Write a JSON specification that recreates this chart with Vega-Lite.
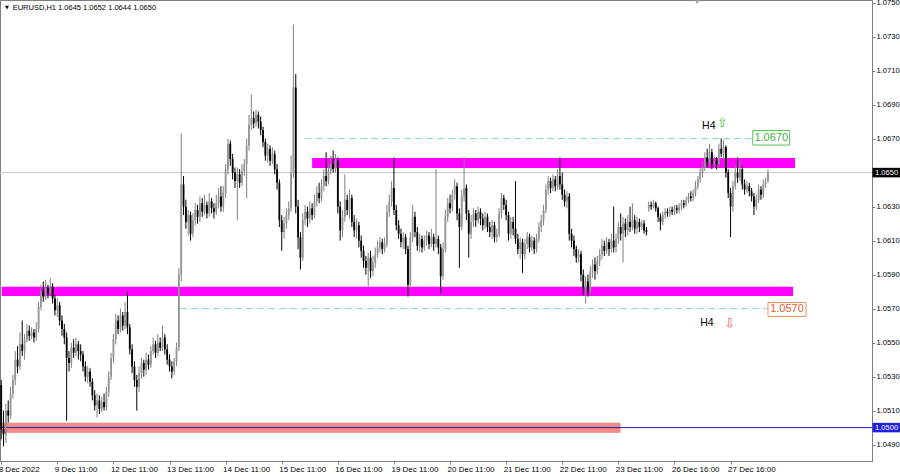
{
"$schema":"https://vega.github.io/schema/vega-lite/v6.json",
"width":872,"height":461,
"autosize":{"type":"none"},
"padding":{"left":0,"top":0,"right":28,"bottom":13},
"background":"#ffffff",
"config":{"view":{"stroke":"#7f7f7f","strokeWidth":1},"font":"Liberation Sans",
 "axis":{"grid":false,"title":null,"labelOverlap":false,"labelBound":false,"labelFlush":false,"domainColor":"#7f7f7f","tickColor":"#7f7f7f","labelColor":"#000000","labelFont":"Liberation Sans","tickSize":3},
 "axisY":{"labelFontSize":7.6,"labelPadding":1,"labelOverlap":false,"tickCount":40},
 "axisX":{"labelFontSize":8,"labelPadding":1,"labelOverlap":false,"tickCount":40}},
"datasets":{
"candles":[
{"i":0,"o":1.0525,"h":1.0528,"l":1.0493,"c":1.0499},
{"i":1,"o":1.0499,"h":1.0510,"l":1.0489,"c":1.0496},
{"i":2,"o":1.0496,"h":1.0514,"l":1.0491,"c":1.0510},
{"i":3,"o":1.0510,"h":1.0516,"l":1.0503,"c":1.0507},
{"i":4,"o":1.0507,"h":1.0524,"l":1.0505,"c":1.0520},
{"i":5,"o":1.0520,"h":1.0531,"l":1.0517,"c":1.0528},
{"i":6,"o":1.0528,"h":1.0545,"l":1.0525,"c":1.0540},
{"i":7,"o":1.0540,"h":1.0548,"l":1.0532,"c":1.0536},
{"i":8,"o":1.0536,"h":1.0556,"l":1.0534,"c":1.0549},
{"i":9,"o":1.0549,"h":1.0563,"l":1.0542,"c":1.0545},
{"i":10,"o":1.0545,"h":1.0555,"l":1.0540,"c":1.0552},
{"i":11,"o":1.0552,"h":1.0561,"l":1.0550,"c":1.0557},
{"i":12,"o":1.0557,"h":1.0560,"l":1.0551,"c":1.0554},
{"i":13,"o":1.0554,"h":1.0559,"l":1.0552,"c":1.0556},
{"i":14,"o":1.0556,"h":1.0558,"l":1.0550,"c":1.0553},
{"i":15,"o":1.0553,"h":1.0562,"l":1.0551,"c":1.0558},
{"i":16,"o":1.0558,"h":1.0574,"l":1.0556,"c":1.0571},
{"i":17,"o":1.0571,"h":1.0584,"l":1.0569,"c":1.0580},
{"i":18,"o":1.0580,"h":1.0586,"l":1.0574,"c":1.0577},
{"i":19,"o":1.0577,"h":1.0587,"l":1.0575,"c":1.0582},
{"i":20,"o":1.0582,"h":1.0584,"l":1.0576,"c":1.0579},
{"i":21,"o":1.0579,"h":1.0588,"l":1.0577,"c":1.0583},
{"i":22,"o":1.0583,"h":1.0585,"l":1.0573,"c":1.0576},
{"i":23,"o":1.0576,"h":1.0578,"l":1.0566,"c":1.0569},
{"i":24,"o":1.0569,"h":1.0576,"l":1.0565,"c":1.0572},
{"i":25,"o":1.0572,"h":1.0574,"l":1.0560,"c":1.0563},
{"i":26,"o":1.0563,"h":1.0566,"l":1.0554,"c":1.0558},
{"i":27,"o":1.0558,"h":1.0561,"l":1.0549,"c":1.0553},
{"i":28,"o":1.0553,"h":1.0556,"l":1.0504,"c":1.0541},
{"i":29,"o":1.0541,"h":1.0545,"l":1.0533,"c":1.0538},
{"i":30,"o":1.0538,"h":1.0550,"l":1.0535,"c":1.0547},
{"i":31,"o":1.0547,"h":1.0552,"l":1.0541,"c":1.0544},
{"i":32,"o":1.0544,"h":1.0553,"l":1.0542,"c":1.0549},
{"i":33,"o":1.0549,"h":1.0551,"l":1.0540,"c":1.0545},
{"i":34,"o":1.0545,"h":1.0549,"l":1.0539,"c":1.0543},
{"i":35,"o":1.0543,"h":1.0545,"l":1.0533,"c":1.0536},
{"i":36,"o":1.0536,"h":1.0539,"l":1.0527,"c":1.0530},
{"i":37,"o":1.0530,"h":1.0536,"l":1.0526,"c":1.0533},
{"i":38,"o":1.0533,"h":1.0535,"l":1.0524,"c":1.0527},
{"i":39,"o":1.0527,"h":1.0529,"l":1.0516,"c":1.0519},
{"i":40,"o":1.0519,"h":1.0522,"l":1.0510,"c":1.0513},
{"i":41,"o":1.0513,"h":1.0520,"l":1.0506,"c":1.0516},
{"i":42,"o":1.0516,"h":1.0519,"l":1.0508,"c":1.0511},
{"i":43,"o":1.0511,"h":1.0518,"l":1.0509,"c":1.0515},
{"i":44,"o":1.0515,"h":1.0520,"l":1.0510,"c":1.0512},
{"i":45,"o":1.0512,"h":1.0524,"l":1.0510,"c":1.0521},
{"i":46,"o":1.0521,"h":1.0533,"l":1.0518,"c":1.0530},
{"i":47,"o":1.0530,"h":1.0544,"l":1.0528,"c":1.0541},
{"i":48,"o":1.0541,"h":1.0555,"l":1.0538,"c":1.0552},
{"i":49,"o":1.0552,"h":1.0567,"l":1.0549,"c":1.0563},
{"i":50,"o":1.0563,"h":1.0566,"l":1.0555,"c":1.0558},
{"i":51,"o":1.0558,"h":1.0570,"l":1.0556,"c":1.0566},
{"i":52,"o":1.0566,"h":1.0568,"l":1.0557,"c":1.0560},
{"i":53,"o":1.0560,"h":1.0574,"l":1.0558,"c":1.0568},
{"i":54,"o":1.0568,"h":1.0580,"l":1.0555,"c":1.0559},
{"i":55,"o":1.0559,"h":1.0561,"l":1.0543,"c":1.0546},
{"i":56,"o":1.0546,"h":1.0549,"l":1.0532,"c":1.0536},
{"i":57,"o":1.0536,"h":1.0539,"l":1.0524,"c":1.0528},
{"i":58,"o":1.0528,"h":1.0531,"l":1.0510,"c":1.0524},
{"i":59,"o":1.0524,"h":1.0536,"l":1.0521,"c":1.0532},
{"i":60,"o":1.0532,"h":1.0541,"l":1.0529,"c":1.0538},
{"i":61,"o":1.0538,"h":1.0540,"l":1.0530,"c":1.0534},
{"i":62,"o":1.0534,"h":1.0544,"l":1.0531,"c":1.0540},
{"i":63,"o":1.0540,"h":1.0543,"l":1.0534,"c":1.0537},
{"i":64,"o":1.0537,"h":1.0548,"l":1.0535,"c":1.0545},
{"i":65,"o":1.0545,"h":1.0553,"l":1.0543,"c":1.0549},
{"i":66,"o":1.0549,"h":1.0551,"l":1.0541,"c":1.0544},
{"i":67,"o":1.0544,"h":1.0555,"l":1.0542,"c":1.0550},
{"i":68,"o":1.0550,"h":1.0553,"l":1.0545,"c":1.0547},
{"i":69,"o":1.0547,"h":1.0560,"l":1.0545,"c":1.0553},
{"i":70,"o":1.0553,"h":1.0555,"l":1.0543,"c":1.0546},
{"i":71,"o":1.0546,"h":1.0549,"l":1.0537,"c":1.0540},
{"i":72,"o":1.0540,"h":1.0543,"l":1.0533,"c":1.0536},
{"i":73,"o":1.0536,"h":1.0539,"l":1.0529,"c":1.0533},
{"i":74,"o":1.0533,"h":1.0541,"l":1.0531,"c":1.0539},
{"i":75,"o":1.0539,"h":1.0550,"l":1.0536,"c":1.0547},
{"i":76,"o":1.0547,"h":1.0594,"l":1.0545,"c":1.0590},
{"i":77,"o":1.0590,"h":1.0673,"l":1.0586,"c":1.0643},
{"i":78,"o":1.0643,"h":1.0648,"l":1.0625,"c":1.0630},
{"i":79,"o":1.0630,"h":1.0634,"l":1.0617,"c":1.0621},
{"i":80,"o":1.0621,"h":1.0628,"l":1.0613,"c":1.0625},
{"i":81,"o":1.0625,"h":1.0627,"l":1.0610,"c":1.0614},
{"i":82,"o":1.0614,"h":1.0626,"l":1.0612,"c":1.0622},
{"i":83,"o":1.0622,"h":1.0632,"l":1.0619,"c":1.0628},
{"i":84,"o":1.0628,"h":1.0631,"l":1.0620,"c":1.0624},
{"i":85,"o":1.0624,"h":1.0636,"l":1.0621,"c":1.0632},
{"i":86,"o":1.0632,"h":1.0635,"l":1.0624,"c":1.0627},
{"i":87,"o":1.0627,"h":1.0637,"l":1.0625,"c":1.0631},
{"i":88,"o":1.0631,"h":1.0633,"l":1.0623,"c":1.0626},
{"i":89,"o":1.0626,"h":1.0638,"l":1.0624,"c":1.0633},
{"i":90,"o":1.0633,"h":1.0635,"l":1.0626,"c":1.0629},
{"i":91,"o":1.0629,"h":1.0632,"l":1.0623,"c":1.0627},
{"i":92,"o":1.0627,"h":1.0637,"l":1.0625,"c":1.0632},
{"i":93,"o":1.0632,"h":1.0641,"l":1.0629,"c":1.0636},
{"i":94,"o":1.0636,"h":1.0642,"l":1.0627,"c":1.0630},
{"i":95,"o":1.0630,"h":1.0642,"l":1.0627,"c":1.0638},
{"i":96,"o":1.0638,"h":1.0655,"l":1.0635,"c":1.0652},
{"i":97,"o":1.0652,"h":1.0670,"l":1.0649,"c":1.0667},
{"i":98,"o":1.0667,"h":1.0669,"l":1.0654,"c":1.0658},
{"i":99,"o":1.0658,"h":1.0661,"l":1.0646,"c":1.0650},
{"i":100,"o":1.0650,"h":1.0653,"l":1.0641,"c":1.0645},
{"i":101,"o":1.0645,"h":1.0653,"l":1.0622,"c":1.0649},
{"i":102,"o":1.0649,"h":1.0652,"l":1.0641,"c":1.0644},
{"i":103,"o":1.0644,"h":1.0655,"l":1.0642,"c":1.0651},
{"i":104,"o":1.0651,"h":1.0658,"l":1.0648,"c":1.0655},
{"i":105,"o":1.0655,"h":1.0670,"l":1.0635,"c":1.0666},
{"i":106,"o":1.0666,"h":1.0684,"l":1.0663,"c":1.0678},
{"i":107,"o":1.0678,"h":1.0696,"l":1.0675,"c":1.0682},
{"i":108,"o":1.0682,"h":1.0686,"l":1.0676,"c":1.0679},
{"i":109,"o":1.0679,"h":1.0687,"l":1.0677,"c":1.0684},
{"i":110,"o":1.0684,"h":1.0686,"l":1.0676,"c":1.0680},
{"i":111,"o":1.0680,"h":1.0683,"l":1.0672,"c":1.0675},
{"i":112,"o":1.0675,"h":1.0677,"l":1.0665,"c":1.0668},
{"i":113,"o":1.0668,"h":1.0670,"l":1.0657,"c":1.0660},
{"i":114,"o":1.0660,"h":1.0667,"l":1.0656,"c":1.0664},
{"i":115,"o":1.0664,"h":1.0666,"l":1.0654,"c":1.0657},
{"i":116,"o":1.0657,"h":1.0665,"l":1.0655,"c":1.0661},
{"i":117,"o":1.0661,"h":1.0663,"l":1.0649,"c":1.0652},
{"i":118,"o":1.0652,"h":1.0655,"l":1.0640,"c":1.0644},
{"i":119,"o":1.0644,"h":1.0646,"l":1.0618,"c":1.0622},
{"i":120,"o":1.0622,"h":1.0625,"l":1.0604,"c":1.0615},
{"i":121,"o":1.0615,"h":1.0624,"l":1.0611,"c":1.0620},
{"i":122,"o":1.0620,"h":1.0629,"l":1.0617,"c":1.0625},
{"i":123,"o":1.0625,"h":1.0633,"l":1.0622,"c":1.0629},
{"i":124,"o":1.0629,"h":1.0660,"l":1.0627,"c":1.0650},
{"i":125,"o":1.0650,"h":1.0737,"l":1.0647,"c":1.0700},
{"i":126,"o":1.0700,"h":1.0708,"l":1.0626,"c":1.0630},
{"i":127,"o":1.0630,"h":1.0634,"l":1.0605,"c":1.0612},
{"i":128,"o":1.0612,"h":1.0615,"l":1.0593,"c":1.0600},
{"i":129,"o":1.0600,"h":1.0626,"l":1.0598,"c":1.0622},
{"i":130,"o":1.0622,"h":1.0631,"l":1.0619,"c":1.0627},
{"i":131,"o":1.0627,"h":1.0630,"l":1.0618,"c":1.0623},
{"i":132,"o":1.0623,"h":1.0633,"l":1.0620,"c":1.0629},
{"i":133,"o":1.0629,"h":1.0632,"l":1.0622,"c":1.0625},
{"i":134,"o":1.0625,"h":1.0637,"l":1.0623,"c":1.0633},
{"i":135,"o":1.0633,"h":1.0642,"l":1.0630,"c":1.0638},
{"i":136,"o":1.0638,"h":1.0644,"l":1.0632,"c":1.0635},
{"i":137,"o":1.0635,"h":1.0646,"l":1.0633,"c":1.0642},
{"i":138,"o":1.0642,"h":1.0652,"l":1.0639,"c":1.0648},
{"i":139,"o":1.0648,"h":1.0662,"l":1.0642,"c":1.0645},
{"i":140,"o":1.0645,"h":1.0655,"l":1.0643,"c":1.0651},
{"i":141,"o":1.0651,"h":1.0660,"l":1.0649,"c":1.0655},
{"i":142,"o":1.0655,"h":1.0663,"l":1.0650,"c":1.0652},
{"i":143,"o":1.0652,"h":1.0661,"l":1.0650,"c":1.0657},
{"i":144,"o":1.0657,"h":1.0659,"l":1.0626,"c":1.0630},
{"i":145,"o":1.0630,"h":1.0633,"l":1.0610,"c":1.0616},
{"i":146,"o":1.0616,"h":1.0628,"l":1.0612,"c":1.0624},
{"i":147,"o":1.0624,"h":1.0649,"l":1.0621,"c":1.0634},
{"i":148,"o":1.0634,"h":1.0637,"l":1.0625,"c":1.0628},
{"i":149,"o":1.0628,"h":1.0640,"l":1.0623,"c":1.0635},
{"i":150,"o":1.0635,"h":1.0637,"l":1.0618,"c":1.0621},
{"i":151,"o":1.0621,"h":1.0625,"l":1.0612,"c":1.0616},
{"i":152,"o":1.0616,"h":1.0623,"l":1.0611,"c":1.0619},
{"i":153,"o":1.0619,"h":1.0621,"l":1.0606,"c":1.0610},
{"i":154,"o":1.0610,"h":1.0613,"l":1.0600,"c":1.0604},
{"i":155,"o":1.0604,"h":1.0607,"l":1.0594,"c":1.0598},
{"i":156,"o":1.0598,"h":1.0601,"l":1.0590,"c":1.0594},
{"i":157,"o":1.0594,"h":1.0603,"l":1.0583,"c":1.0600},
{"i":158,"o":1.0600,"h":1.0604,"l":1.0588,"c":1.0592},
{"i":159,"o":1.0592,"h":1.0601,"l":1.0589,"c":1.0597},
{"i":160,"o":1.0597,"h":1.0606,"l":1.0594,"c":1.0602},
{"i":161,"o":1.0602,"h":1.0610,"l":1.0600,"c":1.0606},
{"i":162,"o":1.0606,"h":1.0612,"l":1.0603,"c":1.0609},
{"i":163,"o":1.0609,"h":1.0611,"l":1.0602,"c":1.0605},
{"i":164,"o":1.0605,"h":1.0612,"l":1.0603,"c":1.0608},
{"i":165,"o":1.0608,"h":1.0631,"l":1.0606,"c":1.0627},
{"i":166,"o":1.0627,"h":1.0637,"l":1.0624,"c":1.0633},
{"i":167,"o":1.0633,"h":1.0645,"l":1.0630,"c":1.0641},
{"i":168,"o":1.0641,"h":1.0659,"l":1.0625,"c":1.0628},
{"i":169,"o":1.0628,"h":1.0631,"l":1.0616,"c":1.0619},
{"i":170,"o":1.0619,"h":1.0622,"l":1.0611,"c":1.0614},
{"i":171,"o":1.0614,"h":1.0617,"l":1.0606,"c":1.0609},
{"i":172,"o":1.0609,"h":1.0615,"l":1.0605,"c":1.0612},
{"i":173,"o":1.0612,"h":1.0614,"l":1.0602,"c":1.0605},
{"i":174,"o":1.0605,"h":1.0607,"l":1.0577,"c":1.0584},
{"i":175,"o":1.0584,"h":1.0615,"l":1.0582,"c":1.0612},
{"i":176,"o":1.0612,"h":1.0631,"l":1.0609,"c":1.0624},
{"i":177,"o":1.0624,"h":1.0627,"l":1.0612,"c":1.0615},
{"i":178,"o":1.0615,"h":1.0618,"l":1.0604,"c":1.0607},
{"i":179,"o":1.0607,"h":1.0614,"l":1.0603,"c":1.0611},
{"i":180,"o":1.0611,"h":1.0613,"l":1.0603,"c":1.0606},
{"i":181,"o":1.0606,"h":1.0613,"l":1.0604,"c":1.0610},
{"i":182,"o":1.0610,"h":1.0616,"l":1.0607,"c":1.0613},
{"i":183,"o":1.0613,"h":1.0615,"l":1.0605,"c":1.0608},
{"i":184,"o":1.0608,"h":1.0617,"l":1.0606,"c":1.0612},
{"i":185,"o":1.0612,"h":1.0614,"l":1.0604,"c":1.0608},
{"i":186,"o":1.0608,"h":1.0652,"l":1.0606,"c":1.0611},
{"i":187,"o":1.0611,"h":1.0613,"l":1.0602,"c":1.0606},
{"i":188,"o":1.0606,"h":1.0608,"l":1.0579,"c":1.0589},
{"i":189,"o":1.0589,"h":1.0609,"l":1.0587,"c":1.0605},
{"i":190,"o":1.0605,"h":1.0628,"l":1.0603,"c":1.0624},
{"i":191,"o":1.0624,"h":1.0635,"l":1.0621,"c":1.0632},
{"i":192,"o":1.0632,"h":1.0637,"l":1.0626,"c":1.0629},
{"i":193,"o":1.0629,"h":1.0640,"l":1.0627,"c":1.0637},
{"i":194,"o":1.0637,"h":1.0646,"l":1.0634,"c":1.0642},
{"i":195,"o":1.0642,"h":1.0644,"l":1.0622,"c":1.0626},
{"i":196,"o":1.0626,"h":1.0629,"l":1.0594,"c":1.0618},
{"i":197,"o":1.0618,"h":1.0640,"l":1.0616,"c":1.0636},
{"i":198,"o":1.0636,"h":1.0659,"l":1.0633,"c":1.0641},
{"i":199,"o":1.0641,"h":1.0643,"l":1.0622,"c":1.0626},
{"i":200,"o":1.0626,"h":1.0628,"l":1.0600,"c":1.0614},
{"i":201,"o":1.0614,"h":1.0625,"l":1.0611,"c":1.0621},
{"i":202,"o":1.0621,"h":1.0629,"l":1.0618,"c":1.0626},
{"i":203,"o":1.0626,"h":1.0628,"l":1.0618,"c":1.0622},
{"i":204,"o":1.0622,"h":1.0630,"l":1.0620,"c":1.0627},
{"i":205,"o":1.0627,"h":1.0629,"l":1.0619,"c":1.0623},
{"i":206,"o":1.0623,"h":1.0626,"l":1.0616,"c":1.0619},
{"i":207,"o":1.0619,"h":1.0627,"l":1.0617,"c":1.0624},
{"i":208,"o":1.0624,"h":1.0626,"l":1.0615,"c":1.0618},
{"i":209,"o":1.0618,"h":1.0621,"l":1.0612,"c":1.0615},
{"i":210,"o":1.0615,"h":1.0622,"l":1.0611,"c":1.0619},
{"i":211,"o":1.0619,"h":1.0621,"l":1.0609,"c":1.0612},
{"i":212,"o":1.0612,"h":1.0617,"l":1.0609,"c":1.0614},
{"i":213,"o":1.0614,"h":1.0629,"l":1.0612,"c":1.0626},
{"i":214,"o":1.0626,"h":1.0638,"l":1.0623,"c":1.0635},
{"i":215,"o":1.0635,"h":1.0637,"l":1.0628,"c":1.0631},
{"i":216,"o":1.0631,"h":1.0634,"l":1.0622,"c":1.0625},
{"i":217,"o":1.0625,"h":1.0627,"l":1.0610,"c":1.0614},
{"i":218,"o":1.0614,"h":1.0624,"l":1.0611,"c":1.0621},
{"i":219,"o":1.0621,"h":1.0624,"l":1.0613,"c":1.0617},
{"i":220,"o":1.0617,"h":1.0645,"l":1.0608,"c":1.0611},
{"i":221,"o":1.0611,"h":1.0614,"l":1.0602,"c":1.0605},
{"i":222,"o":1.0605,"h":1.0612,"l":1.0599,"c":1.0609},
{"i":223,"o":1.0609,"h":1.0611,"l":1.0591,"c":1.0602},
{"i":224,"o":1.0602,"h":1.0611,"l":1.0599,"c":1.0608},
{"i":225,"o":1.0608,"h":1.0615,"l":1.0605,"c":1.0612},
{"i":226,"o":1.0612,"h":1.0614,"l":1.0603,"c":1.0606},
{"i":227,"o":1.0606,"h":1.0613,"l":1.0604,"c":1.0610},
{"i":228,"o":1.0610,"h":1.0612,"l":1.0602,"c":1.0605},
{"i":229,"o":1.0605,"h":1.0614,"l":1.0603,"c":1.0611},
{"i":230,"o":1.0611,"h":1.0621,"l":1.0609,"c":1.0618},
{"i":231,"o":1.0618,"h":1.0625,"l":1.0615,"c":1.0622},
{"i":232,"o":1.0622,"h":1.0631,"l":1.0619,"c":1.0628},
{"i":233,"o":1.0628,"h":1.0643,"l":1.0626,"c":1.0640},
{"i":234,"o":1.0640,"h":1.0648,"l":1.0637,"c":1.0645},
{"i":235,"o":1.0645,"h":1.0647,"l":1.0638,"c":1.0641},
{"i":236,"o":1.0641,"h":1.0649,"l":1.0639,"c":1.0646},
{"i":237,"o":1.0646,"h":1.0648,"l":1.0639,"c":1.0642},
{"i":238,"o":1.0642,"h":1.0652,"l":1.0640,"c":1.0648},
{"i":239,"o":1.0648,"h":1.0659,"l":1.0640,"c":1.0643},
{"i":240,"o":1.0643,"h":1.0650,"l":1.0634,"c":1.0637},
{"i":241,"o":1.0637,"h":1.0640,"l":1.0630,"c":1.0633},
{"i":242,"o":1.0633,"h":1.0639,"l":1.0629,"c":1.0636},
{"i":243,"o":1.0636,"h":1.0638,"l":1.0610,"c":1.0614},
{"i":244,"o":1.0614,"h":1.0617,"l":1.0606,"c":1.0610},
{"i":245,"o":1.0610,"h":1.0613,"l":1.0601,"c":1.0605},
{"i":246,"o":1.0605,"h":1.0607,"l":1.0597,"c":1.0600},
{"i":247,"o":1.0600,"h":1.0605,"l":1.0597,"c":1.0602},
{"i":248,"o":1.0602,"h":1.0604,"l":1.0586,"c":1.0590},
{"i":249,"o":1.0590,"h":1.0593,"l":1.0578,"c":1.0582},
{"i":250,"o":1.0582,"h":1.0589,"l":1.0573,"c":1.0586},
{"i":251,"o":1.0586,"h":1.0590,"l":1.0577,"c":1.0580},
{"i":252,"o":1.0580,"h":1.0595,"l":1.0578,"c":1.0592},
{"i":253,"o":1.0592,"h":1.0599,"l":1.0588,"c":1.0596},
{"i":254,"o":1.0596,"h":1.0600,"l":1.0587,"c":1.0592},
{"i":255,"o":1.0592,"h":1.0601,"l":1.0590,"c":1.0598},
{"i":256,"o":1.0598,"h":1.0605,"l":1.0595,"c":1.0602},
{"i":257,"o":1.0602,"h":1.0611,"l":1.0599,"c":1.0607},
{"i":258,"o":1.0607,"h":1.0610,"l":1.0601,"c":1.0604},
{"i":259,"o":1.0604,"h":1.0612,"l":1.0602,"c":1.0609},
{"i":260,"o":1.0609,"h":1.0611,"l":1.0601,"c":1.0605},
{"i":261,"o":1.0605,"h":1.0614,"l":1.0603,"c":1.0610},
{"i":262,"o":1.0610,"h":1.0630,"l":1.0603,"c":1.0606},
{"i":263,"o":1.0606,"h":1.0614,"l":1.0603,"c":1.0611},
{"i":264,"o":1.0611,"h":1.0621,"l":1.0608,"c":1.0618},
{"i":265,"o":1.0618,"h":1.0626,"l":1.0610,"c":1.0614},
{"i":266,"o":1.0614,"h":1.0624,"l":1.0597,"c":1.0620},
{"i":267,"o":1.0620,"h":1.0623,"l":1.0612,"c":1.0616},
{"i":268,"o":1.0616,"h":1.0625,"l":1.0613,"c":1.0621},
{"i":269,"o":1.0621,"h":1.0630,"l":1.0615,"c":1.0618},
{"i":270,"o":1.0618,"h":1.0632,"l":1.0616,"c":1.0622},
{"i":271,"o":1.0622,"h":1.0625,"l":1.0614,"c":1.0617},
{"i":272,"o":1.0617,"h":1.0624,"l":1.0614,"c":1.0621},
{"i":273,"o":1.0621,"h":1.0623,"l":1.0615,"c":1.0618},
{"i":274,"o":1.0618,"h":1.0622,"l":1.0616,"c":1.0620},
{"i":275,"o":1.0620,"h":1.0622,"l":1.0614,"c":1.0616},
{"i":276,"o":1.0616,"h":1.0618,"l":1.0613,"c":1.0615},
{"i":277,"o":1.0629,"h":1.0633,"l":1.0627,"c":1.0631},
{"i":278,"o":1.0631,"h":1.0633,"l":1.0628,"c":1.0630},
{"i":279,"o":1.0630,"h":1.0634,"l":1.0629,"c":1.0632},
{"i":280,"o":1.0632,"h":1.0633,"l":1.0627,"c":1.0629},
{"i":281,"o":1.0629,"h":1.0630,"l":1.0621,"c":1.0624},
{"i":282,"o":1.0624,"h":1.0626,"l":1.0616,"c":1.0621},
{"i":283,"o":1.0621,"h":1.0627,"l":1.0619,"c":1.0625},
{"i":284,"o":1.0625,"h":1.0629,"l":1.0623,"c":1.0627},
{"i":285,"o":1.0627,"h":1.0629,"l":1.0624,"c":1.0626},
{"i":286,"o":1.0626,"h":1.0630,"l":1.0624,"c":1.0628},
{"i":287,"o":1.0628,"h":1.0630,"l":1.0625,"c":1.0627},
{"i":288,"o":1.0627,"h":1.0631,"l":1.0625,"c":1.0629},
{"i":289,"o":1.0629,"h":1.0631,"l":1.0626,"c":1.0628},
{"i":290,"o":1.0628,"h":1.0632,"l":1.0626,"c":1.0630},
{"i":291,"o":1.0630,"h":1.0634,"l":1.0628,"c":1.0632},
{"i":292,"o":1.0632,"h":1.0634,"l":1.0629,"c":1.0631},
{"i":293,"o":1.0631,"h":1.0636,"l":1.0630,"c":1.0634},
{"i":294,"o":1.0634,"h":1.0638,"l":1.0632,"c":1.0636},
{"i":295,"o":1.0636,"h":1.0639,"l":1.0633,"c":1.0635},
{"i":296,"o":1.0635,"h":1.0640,"l":1.0633,"c":1.0638},
{"i":297,"o":1.0638,"h":1.0645,"l":1.0636,"c":1.0642},
{"i":298,"o":1.0642,"h":1.0648,"l":1.0640,"c":1.0646},
{"i":299,"o":1.0646,"h":1.0653,"l":1.0644,"c":1.0650},
{"i":300,"o":1.0650,"h":1.0656,"l":1.0647,"c":1.0653},
{"i":301,"o":1.0653,"h":1.0662,"l":1.0651,"c":1.0659},
{"i":302,"o":1.0659,"h":1.0664,"l":1.0653,"c":1.0656},
{"i":303,"o":1.0656,"h":1.0667,"l":1.0654,"c":1.0662},
{"i":304,"o":1.0662,"h":1.0664,"l":1.0652,"c":1.0655},
{"i":305,"o":1.0655,"h":1.0660,"l":1.0653,"c":1.0657},
{"i":306,"o":1.0657,"h":1.0659,"l":1.0652,"c":1.0655},
{"i":307,"o":1.0655,"h":1.0667,"l":1.0653,"c":1.0664},
{"i":308,"o":1.0664,"h":1.0670,"l":1.0659,"c":1.0661},
{"i":309,"o":1.0661,"h":1.0669,"l":1.0658,"c":1.0665},
{"i":310,"o":1.0665,"h":1.0666,"l":1.0647,"c":1.0650},
{"i":311,"o":1.0650,"h":1.0652,"l":1.0635,"c":1.0638},
{"i":312,"o":1.0638,"h":1.0641,"l":1.0612,"c":1.0630},
{"i":313,"o":1.0630,"h":1.0645,"l":1.0627,"c":1.0642},
{"i":314,"o":1.0642,"h":1.0654,"l":1.0640,"c":1.0650},
{"i":315,"o":1.0650,"h":1.0659,"l":1.0644,"c":1.0647},
{"i":316,"o":1.0647,"h":1.0657,"l":1.0645,"c":1.0652},
{"i":317,"o":1.0652,"h":1.0654,"l":1.0640,"c":1.0643},
{"i":318,"o":1.0643,"h":1.0646,"l":1.0637,"c":1.0640},
{"i":319,"o":1.0640,"h":1.0645,"l":1.0638,"c":1.0642},
{"i":320,"o":1.0642,"h":1.0644,"l":1.0636,"c":1.0639},
{"i":321,"o":1.0639,"h":1.0641,"l":1.0633,"c":1.0636},
{"i":322,"o":1.0636,"h":1.0638,"l":1.0625,"c":1.0630},
{"i":323,"o":1.0630,"h":1.0637,"l":1.0628,"c":1.0634},
{"i":324,"o":1.0634,"h":1.0643,"l":1.0632,"c":1.0640},
{"i":325,"o":1.0640,"h":1.0642,"l":1.0634,"c":1.0637},
{"i":326,"o":1.0637,"h":1.0646,"l":1.0635,"c":1.0643},
{"i":327,"o":1.0643,"h":1.0647,"l":1.0641,"c":1.0645},
{"i":328,"o":1.0645,"h":1.0652,"l":1.0644,"c":1.0650}
],
"salmon":[{"x1":0,"x2":264.7,"lo":1.04972,"hi":1.05026}],
"magenta":[{"x1":133,"x2":339.6,"lo":1.06527,"hi":1.06586},{"x1":0.2,"x2":338.7,"lo":1.05774,"hi":1.05829}],
"dashed":[{"x1":130,"x2":321.5,"p":1.067},{"x1":76.5,"x2":328,"p":1.057}],
"boxUp":[{"x1":321.5,"x2":337.3,"lo":1.06662,"hi":1.06748,"xm":329.4,"p":1.06705,"t":"1.0670"}],
"boxDn":[{"x1":328,"x2":344.3,"lo":1.05654,"hi":1.05736,"xm":336.15,"p":1.05695,"t":"1.0570"}],
"h4":[{"x":302.7,"p":1.06777,"t":"H4"},{"x":301.9,"p":1.05615,"t":"H4"}],
"arrUp":[{"x":308.4,"p":1.06790,"t":"⇧"}],
"arrDn":[{"x":311.6,"p":1.05611,"t":"⇩"}],
"title":[{"x":4.9,"p":1.07471,"t":"EURUSD,H1  1.0645 1.0652 1.0644 1.0650"}],
"tri":[{"x":1.6,"p":1.07474,"t":"▼"}],
"shift":[{"x":297.7,"p":1.07502}],
"tagBlack":[{"x1":372.7,"x2":384.5,"lo":1.06472,"hi":1.06528,"x":373.8,"p":1.065,"t":"1.0650"}],
"tagBlue":[{"x1":372.7,"x2":384.5,"lo":1.04972,"hi":1.05028,"x":373.8,"p":1.05,"t":"1.0500"}],
"lines":[{"p":1.05}],
"cur":[{"p":1.065}]
},
"layer":[
{"data":{"name":"salmon"},"mark":{"type":"rect","fill":"#f28c82","stroke":"#e8766c","strokeWidth":0.8},
 "encoding":{"x":{"field":"x1","type":"quantitative","scale":{"domain":[-0.513,372.5],"nice":false,"zero":false}},"x2":{"field":"x2"},
 "y":{"field":"lo","type":"quantitative","scale":{"domain":[1.048035,1.075153],"nice":false,"zero":false}},"y2":{"field":"hi"}}},
{"data":{"name":"lines"},"mark":{"type":"rule","color":"#1f1fc8","strokeWidth":1},
 "encoding":{"y":{"field":"p","type":"quantitative","scale":{"domain":[1.048035,1.075153],"nice":false,"zero":false}}}},
{"data":{"name":"cur"},"mark":{"type":"rule","color":"#c8c8c8","strokeWidth":1},
 "encoding":{"y":{"field":"p","type":"quantitative","scale":{"domain":[1.048035,1.075153],"nice":false,"zero":false}}}},
{"data":{"name":"magenta"},"mark":{"type":"rect","color":"#ff00ff"},
 "encoding":{"x":{"field":"x1","type":"quantitative","scale":{"domain":[-0.513,372.5],"nice":false,"zero":false}},"x2":{"field":"x2"},
 "y":{"field":"lo","type":"quantitative","scale":{"domain":[1.048035,1.075153],"nice":false,"zero":false}},"y2":{"field":"hi"}}},
{"data":{"name":"dashed"},"mark":{"type":"rule","color":"#86d4d4","strokeWidth":1,"strokeDash":[7,4]},
 "encoding":{"x":{"field":"x1","type":"quantitative","scale":{"domain":[-0.513,372.5],"nice":false,"zero":false}},"x2":{"field":"x2"},
 "y":{"field":"p","type":"quantitative","scale":{"domain":[1.048035,1.075153],"nice":false,"zero":false}}}},
{"data":{"name":"candles"},"mark":{"type":"rule","strokeWidth":1},
 "encoding":{"x":{"field":"i","type":"quantitative","scale":{"domain":[-0.513,372.5],"nice":false,"zero":false},
   "axis":{"orient":"bottom","values":[0,24,48,72,96,120,144,168,192,216,240,264,288,312],"tickCount":40,
   "labelExpr":"['8 Dec 2022','9 Dec 11:00','12 Dec 11:00','13 Dec 11:00','14 Dec 11:00','15 Dec 11:00','16 Dec 11:00','19 Dec 11:00','20 Dec 11:00','21 Dec 11:00','22 Dec 11:00','23 Dec 11:00','26 Dec 16:00','27 Dec 16:00'][round(datum.value/24)]",
   "labelAlign":"left","labelOffset":-3,"labelBaseline":"top","labelOverlap":false}},
 "y":{"field":"h","type":"quantitative","scale":{"domain":[1.048035,1.075153],"nice":false,"zero":false},
   "axis":{"orient":"right","values":[1.049,1.051,1.053,1.055,1.057,1.059,1.061,1.063,1.067,1.069,1.071,1.073,1.075],"tickCount":40,"format":".4f","labelOverlap":false,"labelAlign":"left","labelBaseline":"middle"}},
 "y2":{"field":"l"},
 "color":{"condition":{"test":"datum.c >= datum.o","value":"#808080"},"value":"#000000"}}},
{"data":{"name":"candles"},"mark":{"type":"rule","strokeWidth":1.8},
 "encoding":{"x":{"field":"i","type":"quantitative","scale":{"domain":[-0.513,372.5],"nice":false,"zero":false}},
 "y":{"field":"o","type":"quantitative","scale":{"domain":[1.048035,1.075153],"nice":false,"zero":false}},
 "y2":{"field":"c"},
 "color":{"condition":{"test":"datum.c >= datum.o","value":"#949494"},"value":"#000000"}}},
{"data":{"name":"boxUp"},"mark":{"type":"rect","fill":"#ffffff","stroke":"#55c055","strokeWidth":1},
 "encoding":{"x":{"field":"x1","type":"quantitative","scale":{"domain":[-0.513,372.5],"nice":false,"zero":false}},"x2":{"field":"x2"},
 "y":{"field":"lo","type":"quantitative","scale":{"domain":[1.048035,1.075153],"nice":false,"zero":false}},"y2":{"field":"hi"}}},
{"data":{"name":"boxUp"},"mark":{"type":"text","color":"#3cb43c","fontSize":11,"font":"Liberation Sans","align":"center","baseline":"middle"},
 "encoding":{"x":{"field":"xm","type":"quantitative","scale":{"domain":[-0.513,372.5],"nice":false,"zero":false}},
 "y":{"field":"p","type":"quantitative","scale":{"domain":[1.048035,1.075153],"nice":false,"zero":false}},"text":{"field":"t"}}},
{"data":{"name":"boxDn"},"mark":{"type":"rect","fill":"#ffffff","stroke":"#f0905a","strokeWidth":1},
 "encoding":{"x":{"field":"x1","type":"quantitative","scale":{"domain":[-0.513,372.5],"nice":false,"zero":false}},"x2":{"field":"x2"},
 "y":{"field":"lo","type":"quantitative","scale":{"domain":[1.048035,1.075153],"nice":false,"zero":false}},"y2":{"field":"hi"}}},
{"data":{"name":"boxDn"},"mark":{"type":"text","color":"#e8602c","fontSize":11,"font":"Liberation Sans","align":"center","baseline":"middle"},
 "encoding":{"x":{"field":"xm","type":"quantitative","scale":{"domain":[-0.513,372.5],"nice":false,"zero":false}},
 "y":{"field":"p","type":"quantitative","scale":{"domain":[1.048035,1.075153],"nice":false,"zero":false}},"text":{"field":"t"}}},
{"data":{"name":"h4"},"mark":{"type":"text","color":"#000000","fontSize":10.5,"font":"Liberation Sans","align":"center","baseline":"middle"},
 "encoding":{"x":{"field":"x","type":"quantitative","scale":{"domain":[-0.513,372.5],"nice":false,"zero":false}},
 "y":{"field":"p","type":"quantitative","scale":{"domain":[1.048035,1.075153],"nice":false,"zero":false}},"text":{"field":"t"}}},
{"data":{"name":"arrUp"},"mark":{"type":"text","color":"#4cc04c","fontSize":13,"font":"DejaVu Sans","align":"center","baseline":"middle"},
 "encoding":{"x":{"field":"x","type":"quantitative","scale":{"domain":[-0.513,372.5],"nice":false,"zero":false}},
 "y":{"field":"p","type":"quantitative","scale":{"domain":[1.048035,1.075153],"nice":false,"zero":false}},"text":{"field":"t"}}},
{"data":{"name":"arrDn"},"mark":{"type":"text","color":"#f06060","fontSize":13,"font":"DejaVu Sans","align":"center","baseline":"middle"},
 "encoding":{"x":{"field":"x","type":"quantitative","scale":{"domain":[-0.513,372.5],"nice":false,"zero":false}},
 "y":{"field":"p","type":"quantitative","scale":{"domain":[1.048035,1.075153],"nice":false,"zero":false}},"text":{"field":"t"}}},
{"data":{"name":"title"},"mark":{"type":"text","color":"#000000","fontSize":7.5,"font":"Liberation Sans","align":"left","baseline":"middle"},
 "encoding":{"x":{"field":"x","type":"quantitative","scale":{"domain":[-0.513,372.5],"nice":false,"zero":false}},
 "y":{"field":"p","type":"quantitative","scale":{"domain":[1.048035,1.075153],"nice":false,"zero":false}},"text":{"field":"t"}}},
{"data":{"name":"tri"},"mark":{"type":"text","color":"#000000","fontSize":5,"font":"DejaVu Sans","align":"left","baseline":"middle"},
 "encoding":{"x":{"field":"x","type":"quantitative","scale":{"domain":[-0.513,372.5],"nice":false,"zero":false}},
 "y":{"field":"p","type":"quantitative","scale":{"domain":[1.048035,1.075153],"nice":false,"zero":false}},"text":{"field":"t"}}},
{"data":{"name":"shift"},"mark":{"type":"point","shape":"triangle-down","filled":true,"color":"#a8a8a8","size":22,"opacity":1},
 "encoding":{"x":{"field":"x","type":"quantitative","scale":{"domain":[-0.513,372.5],"nice":false,"zero":false}},
 "y":{"field":"p","type":"quantitative","scale":{"domain":[1.048035,1.075153],"nice":false,"zero":false}}}},
{"data":{"name":"tagBlack"},"mark":{"type":"rect","color":"#000000","clip":false},
 "encoding":{"x":{"field":"x1","type":"quantitative","scale":{"domain":[-0.513,372.5],"nice":false,"zero":false}},"x2":{"field":"x2"},
 "y":{"field":"lo","type":"quantitative","scale":{"domain":[1.048035,1.075153],"nice":false,"zero":false}},"y2":{"field":"hi"}}},
{"data":{"name":"tagBlack"},"mark":{"type":"text","color":"#ffffff","fontSize":7.6,"font":"Liberation Sans","align":"left","baseline":"middle","clip":false},
 "encoding":{"x":{"field":"x","type":"quantitative","scale":{"domain":[-0.513,372.5],"nice":false,"zero":false}},
 "y":{"field":"p","type":"quantitative","scale":{"domain":[1.048035,1.075153],"nice":false,"zero":false}},"text":{"field":"t"}}},
{"data":{"name":"tagBlue"},"mark":{"type":"rect","color":"#2020e0","clip":false},
 "encoding":{"x":{"field":"x1","type":"quantitative","scale":{"domain":[-0.513,372.5],"nice":false,"zero":false}},"x2":{"field":"x2"},
 "y":{"field":"lo","type":"quantitative","scale":{"domain":[1.048035,1.075153],"nice":false,"zero":false}},"y2":{"field":"hi"}}},
{"data":{"name":"tagBlue"},"mark":{"type":"text","color":"#ffffff","fontSize":7.6,"font":"Liberation Sans","align":"left","baseline":"middle","clip":false},
 "encoding":{"x":{"field":"x","type":"quantitative","scale":{"domain":[-0.513,372.5],"nice":false,"zero":false}},
 "y":{"field":"p","type":"quantitative","scale":{"domain":[1.048035,1.075153],"nice":false,"zero":false}},"text":{"field":"t"}}}
]
}
